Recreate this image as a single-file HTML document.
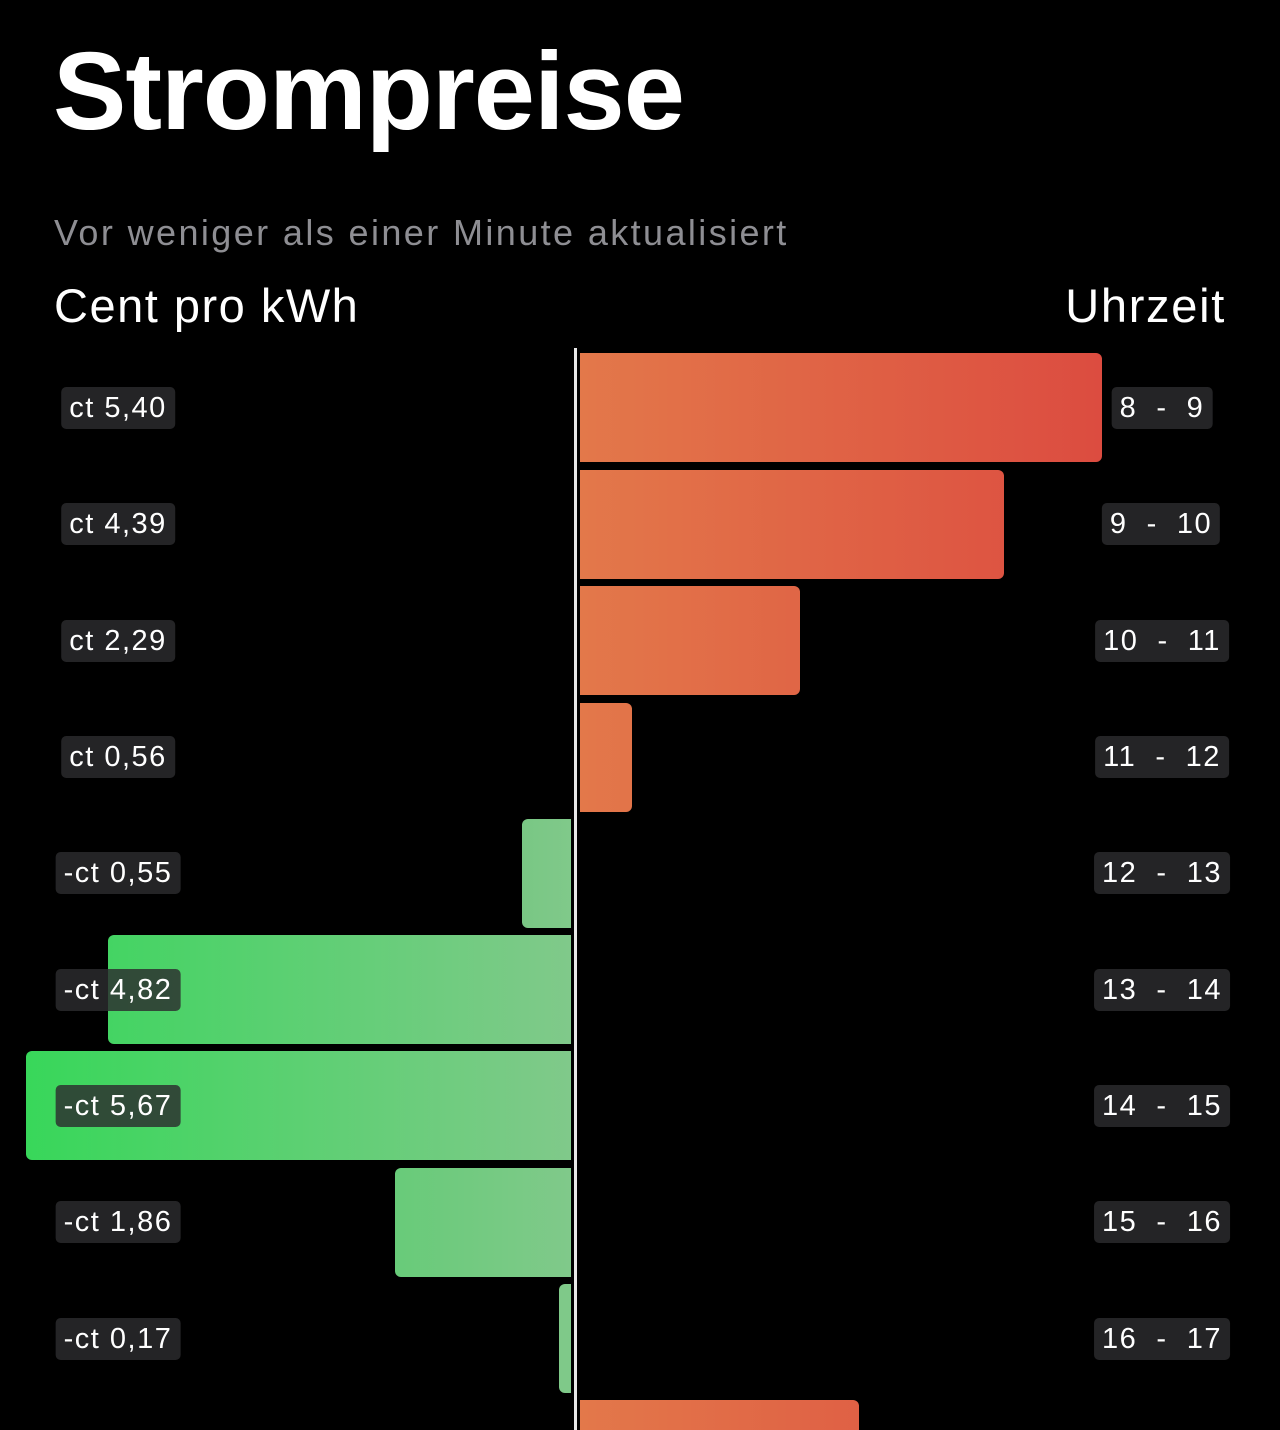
<!DOCTYPE html>
<html style="margin:0;height:1430px;overflow:hidden;background:#000"><head><meta charset="utf-8"><style>
body{margin:0;width:1280px;height:1430px;background:#000;overflow:hidden;position:relative;font-family:"Liberation Sans",sans-serif;color:#fff}
.a{position:absolute}
.bar{position:absolute;height:109px}
.pos{left:580px;border-radius:0 6px 6px 0;background:linear-gradient(90deg,#e3784a 0px,#dc4c40 522px) no-repeat;background-size:522px 100%}
.neg{right:709px;border-radius:6px 0 0 6px}
.bl{position:absolute;transform:translate(-50%,-50%);background:rgba(44,44,46,0.82);border-radius:5px;font-size:29px;padding:4px 8px;white-space:nowrap;line-height:34px;letter-spacing:1.5px}
.line{position:absolute;left:574px;top:348px;width:3px;height:1082px;background:#e8e8e8}
</style></head><body>
<div class="a" style="left:53px;top:28px;font-size:110px;font-weight:bold;letter-spacing:-1px">Strompreise</div>
<div class="a" style="left:54px;top:212px;font-size:36px;color:#8e8e93;letter-spacing:2.4px">Vor weniger als einer Minute aktualisiert</div>
<div class="a" style="left:54px;top:278px;font-size:47px;letter-spacing:1.5px">Cent pro kWh</div>
<div class="a" style="right:54px;top:278px;font-size:47px;letter-spacing:1.7px">Uhrzeit</div>

<div class="bar pos" style="top:353px;width:522px;"></div>
<div class="bar pos" style="top:470px;width:424px;"></div>
<div class="bar pos" style="top:586px;width:220px;"></div>
<div class="bar pos" style="top:703px;width:52px;"></div>
<div class="bar pos" style="top:1400px;width:279px;height:30px;border-radius:0 6px 0 0"></div>

<div class="bar neg" style="top:819px;left:522px;background:linear-gradient(90deg,#79c784,#80c98a)"></div>
<div class="bar neg" style="top:935px;left:108px;background:linear-gradient(90deg,#44d463,#80c98a)"></div>
<div class="bar neg" style="top:1051px;left:26px;background:linear-gradient(90deg,#38d75a,#80c98a)"></div>
<div class="bar neg" style="top:1168px;left:395px;background:linear-gradient(90deg,#68cb79,#80c98a)"></div>
<div class="bar neg" style="top:1284px;left:559px;background:#7fc989"></div>
<div class="line"></div>

<div class="bl" style="left:118px;top:408px">ct 5,40</div>
<div class="bl" style="left:118px;top:524px">ct 4,39</div>
<div class="bl" style="left:118px;top:641px">ct 2,29</div>
<div class="bl" style="left:118px;top:757px">ct 0,56</div>
<div class="bl" style="left:118px;top:873px">-ct 0,55</div>
<div class="bl" style="left:118px;top:990px">-ct 4,82</div>
<div class="bl" style="left:118px;top:1106px">-ct 5,67</div>
<div class="bl" style="left:118px;top:1222px">-ct 1,86</div>
<div class="bl" style="left:118px;top:1339px">-ct 0,17</div>

<div class="bl" style="left:1162px;top:408px">8 &nbsp;- &nbsp;9</div>
<div class="bl" style="left:1161px;top:524px">9 &nbsp;- &nbsp;10</div>
<div class="bl" style="left:1162px;top:641px">10 &nbsp;- &nbsp;11</div>
<div class="bl" style="left:1162px;top:757px">11 &nbsp;- &nbsp;12</div>
<div class="bl" style="left:1162px;top:873px">12 &nbsp;- &nbsp;13</div>
<div class="bl" style="left:1162px;top:990px">13 &nbsp;- &nbsp;14</div>
<div class="bl" style="left:1162px;top:1106px">14 &nbsp;- &nbsp;15</div>
<div class="bl" style="left:1162px;top:1222px">15 &nbsp;- &nbsp;16</div>
<div class="bl" style="left:1162px;top:1339px">16 &nbsp;- &nbsp;17</div>
</body></html>
